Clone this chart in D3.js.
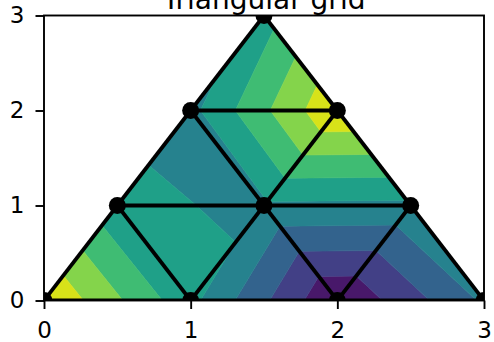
<!DOCTYPE html>
<html><head><meta charset="utf-8">
<script src="https://cdn.jsdelivr.net/npm/d3@7"></script>
<style>body{margin:0;background:#fff}</style></head><body>
<svg id="c" width="494" height="342"></svg>
<script>
const xs = [0, 1, 2, 3, 0.5, 1.5, 2.5, 1, 2, 1.5];
const ys = [0, 0, 0, 0, 1, 1, 1, 2, 2, 3];
const zs = [1.0, 0.0707, -0.9900, -0.2108, 0.0518, -0.0444, -0.0581, -0.0700, 0.9801, 0.1324];
const triangles = [[0,1,4],[1,2,5],[2,3,6],[1,5,4],[2,6,5],[4,5,7],[5,6,8],[5,8,7],[7,8,9]];
const levels = [-1, -0.75, -0.5, -0.25, 0, 0.25, 0.5, 0.75, 1];
const xTicks = [0, 1, 2, 3];
const yTicks = [0, 1, 2, 3];
const title = "Triangular grid";

const L = 44, R = 484, T = 15.5, B = 300.5;
const svg = d3.select("#c");
const x = d3.scaleLinear().domain([0, 3]).range([L, R]);
const y = d3.scaleLinear().domain([0, 3]).range([B, T]);
const font = "DejaVu Sans, sans-serif";

svg.append("defs").append("clipPath").attr("id", "clip")
  .append("rect").attr("x", L).attr("y", T).attr("width", R - L).attr("height", B - T);

// clip polygon (array of [x,y,z]) by z >= v (sign=1) or z <= v (sign=-1)
function clip(poly, v, sign) {
  const out = [];
  for (let i = 0; i < poly.length; i++) {
    const a = poly[i], b = poly[(i + 1) % poly.length];
    const ia = sign * (a[2] - v) >= 0, ib = sign * (b[2] - v) >= 0;
    if (ia) out.push(a);
    if (ia !== ib) {
      const t = (v - a[2]) / (b[2] - a[2]);
      out.push([a[0] + t * (b[0] - a[0]), a[1] + t * (b[1] - a[1]), v]);
    }
  }
  return out;
}

const bands = [];
for (let i = 0; i < levels.length - 1; i++) {
  const lo = levels[i], hi = levels[i + 1];
  const mid = (lo + hi) / 2;
  const color = d3.interpolateViridis((mid - levels[0]) / (levels[levels.length - 1] - levels[0]));
  triangles.forEach(tr => {
    let poly = tr.map(k => [xs[k], ys[k], zs[k]]);
    poly = clip(poly, lo, 1);
    if (poly.length >= 3) poly = clip(poly, hi, -1);
    if (poly.length >= 3) bands.push({poly, color});
  });
}

const g = svg.append("g").attr("clip-path", "url(#clip)");
g.selectAll("path.band").data(bands).join("path")
  .attr("class", "band")
  .attr("d", d => "M" + d.poly.map(p => x(p[0]) + "," + y(p[1])).join("L") + "Z")
  .attr("fill", d => d.color)
  .attr("stroke", d => d.color)
  .attr("stroke-width", 0.6);

// triangulation edges
const edges = [];
const seen = new Set();
triangles.forEach(tr => {
  for (let i = 0; i < 3; i++) {
    const a = tr[i], b = tr[(i + 1) % 3];
    const key = Math.min(a, b) + "-" + Math.max(a, b);
    if (!seen.has(key)) { seen.add(key); edges.push([a, b]); }
  }
});
g.selectAll("line.edge").data(edges).join("line")
  .attr("class", "edge")
  .attr("x1", d => x(xs[d[0]])).attr("y1", d => y(ys[d[0]]))
  .attr("x2", d => x(xs[d[1]])).attr("y2", d => y(ys[d[1]]))
  .attr("stroke", "#000").attr("stroke-width", 3.8).attr("stroke-linecap", "butt");

g.selectAll("circle.node").data(xs.map((v, i) => i)).join("circle")
  .attr("class", "node")
  .attr("cx", i => x(xs[i])).attr("cy", i => y(ys[i]))
  .attr("r", 8.5).attr("fill", "#000");

// spines
svg.append("rect").attr("x", L).attr("y", T).attr("width", R - L).attr("height", B - T)
  .attr("fill", "none").attr("stroke", "#000").attr("stroke-width", 1.9);

// axes
const xa = svg.append("g").attr("transform", `translate(0,${B})`)
  .call(d3.axisBottom(x).tickValues(xTicks).tickSize(8.5).tickSizeOuter(0).tickPadding(13).tickFormat(d3.format("d")));
const ya = svg.append("g").attr("transform", `translate(${L},0)`)
  .call(d3.axisLeft(y).tickValues(yTicks).tickSize(8.5).tickSizeOuter(0).tickPadding(11).tickFormat(d3.format("d")));
[xa, ya].forEach(a => {
  a.select(".domain").remove();
  a.selectAll("line").attr("stroke", "#000").attr("stroke-width", 1.9);
  a.selectAll("text").attr("fill", "#000").style("font-family", font).style("font-size", "23px");
});

svg.append("text").attr("x", (L + R) / 2).attr("y", 9)
  .attr("text-anchor", "middle").style("font-family", font).style("font-size", "28px")
  .attr("fill", "#000").text(title);
</script>
</body></html>
